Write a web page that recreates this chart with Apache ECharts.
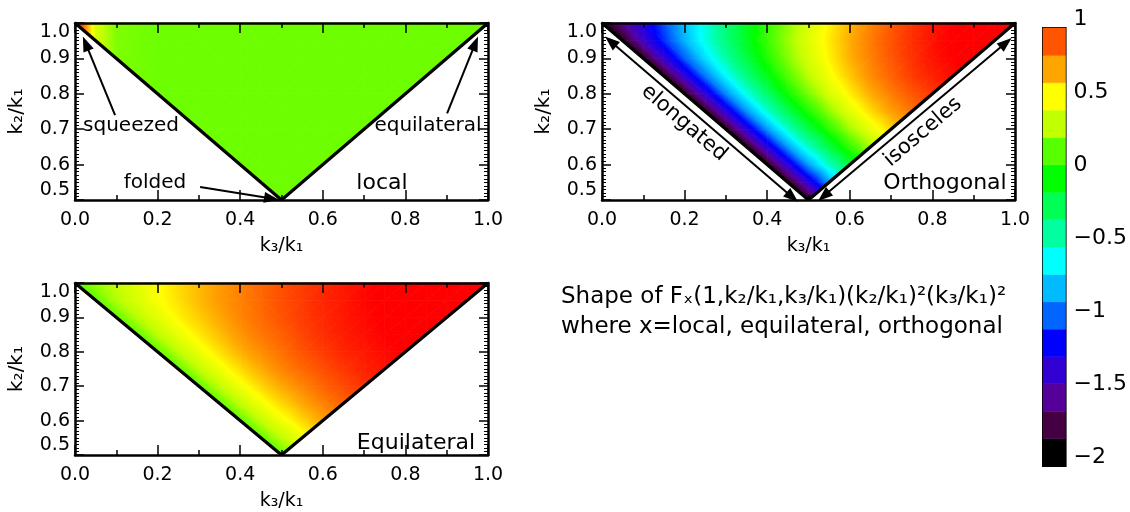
<!DOCTYPE html>
<html><head><meta charset="utf-8">
<script src="https://cdn.jsdelivr.net/npm/echarts@6/dist/echarts.min.js"></script>
<style>html,body{margin:0;padding:0;background:#fff}#c{width:1130px;height:512px}</style>
</head><body><div id="c"></div>
<script>
// ---------- data ----------
const k3Grid = [0,0.05,0.1,0.15,0.2,0.25,0.3,0.35,0.4,0.45,0.5,0.55,0.6,0.65,0.7,0.75,0.8,0.85,0.9,0.95,1];
const k2Grid = [0.5,0.55,0.6,0.65,0.7,0.75,0.8,0.85,0.9,0.95,1];
// row j: k2 = k2Grid[j], values for k3 = 1-k2 ... k2 (step 0.05)
const localRows = [
  [0.03],
  [0.03,0.03,0.03],
  [0.03,0.03,0.03,0.03,0.03],
  [0.03,0.03,0.03,0.03,0.03,0.03,0.03],
  [0.03,0.03,0.03,0.03,0.03,0.03,0.03,0.03,0.03],
  [0.03,0.03,0.03,0.03,0.03,0.03,0.03,0.03,0.03,0.03,0.03],
  [0.03,0.03,0.03,0.03,0.03,0.03,0.03,0.03,0.03,0.03,0.03,0.03,0.03],
  [0.04,0.03,0.03,0.03,0.03,0.03,0.03,0.03,0.03,0.03,0.03,0.03,0.03,0.03,0.03],
  [0.06,0.04,0.03,0.03,0.03,0.03,0.03,0.03,0.03,0.03,0.03,0.03,0.03,0.03,0.03,0.03,0.03],
  [0.24,0.06,0.04,0.03,0.03,0.03,0.03,0.03,0.03,0.03,0.03,0.03,0.03,0.03,0.03,0.03,0.03,0.03,0.03],
  [1.0,0.25,0.06,0.04,0.03,0.03,0.03,0.03,0.03,0.03,0.03,0.03,0.03,0.03,0.03,0.03,0.03,0.03,0.03,0.03,0.03]
];
const equilRows = [
  [0],
  [0,0.18,0.33],
  [0,0.18,0.33,0.45,0.56],
  [0,0.18,0.33,0.45,0.55,0.64,0.71],
  [0,0.18,0.33,0.45,0.55,0.63,0.71,0.77,0.82],
  [0,0.18,0.32,0.44,0.54,0.63,0.70,0.76,0.81,0.86,0.89],
  [0,0.17,0.31,0.43,0.53,0.61,0.68,0.75,0.80,0.85,0.88,0.91,0.94],
  [0,0.17,0.30,0.41,0.50,0.59,0.66,0.72,0.78,0.83,0.87,0.90,0.93,0.95,0.97],
  [0,0.16,0.28,0.39,0.47,0.55,0.63,0.69,0.75,0.80,0.84,0.88,0.91,0.94,0.96,0.98,0.99],
  [0,0.15,0.25,0.35,0.43,0.51,0.58,0.64,0.70,0.76,0.80,0.85,0.88,0.92,0.94,0.96,0.98,0.99,1.0],
  [0,0.10,0.19,0.28,0.36,0.44,0.51,0.58,0.64,0.70,0.75,0.80,0.84,0.88,0.91,0.94,0.96,0.98,0.99,1.0,1.0]
];
const orthoRows = [
  [-2],
  [-2,-1.46,-1.01],
  [-2,-1.46,-1.01,-0.64,-0.33],
  [-2,-1.46,-1.02,-0.65,-0.34,-0.08,0.13],
  [-2,-1.46,-1.03,-0.66,-0.35,-0.10,0.12,0.30,0.45],
  [-2,-1.47,-1.04,-0.68,-0.38,-0.13,0.09,0.28,0.44,0.57,0.67],
  [-2,-1.48,-1.06,-0.72,-0.43,-0.17,0.05,0.24,0.40,0.54,0.65,0.74,0.81],
  [-2,-1.49,-1.10,-0.77,-0.49,-0.24,-0.02,0.17,0.34,0.48,0.61,0.71,0.80,0.86,0.91],
  [-2,-1.51,-1.15,-0.85,-0.58,-0.34,-0.13,0.07,0.24,0.39,0.53,0.64,0.74,0.82,0.89,0.93,0.96],
  [-2,-1.56,-1.24,-0.96,-0.71,-0.48,-0.27,-0.07,0.11,0.27,0.41,0.54,0.65,0.75,0.83,0.89,0.94,0.98,0.99],
  [-2,-1.71,-1.43,-1.17,-0.92,-0.69,-0.47,-0.27,-0.08,0.09,0.25,0.39,0.52,0.63,0.73,0.81,0.88,0.93,0.97,0.99,1.0]
];
const triangleEdge = [[0,1],[0.5,0.5],[1,1]];
// colour bar: lower edge of each band and its colour
const colorbarLevels = [-2,-1.8125,-1.625,-1.4375,-1.25,-1.0625,-0.875,-0.6875,-0.5,-0.3125,-0.125,0.0625,0.25,0.4375,0.625,0.8125];
const colorbarColors = ['#000000','#440042','#56009a','#3300d4','#0000ff','#0066ff','#00bbff','#00ffff','#00ffa0','#00ff55','#00ff00','#58ff00','#c2ff00','#ffff00','#ffa500','#ff5500'];
const colorbarTicks = [-2,-1.5,-1,-0.5,0,0.5,1];
const bandHeight = 0.1875;

// ---------- colour map ----------
const colorShift = 0.07;
const cmLevels = colorbarLevels.concat([1]);
const cmColors = colorbarColors.concat(['#ff0000']).map(h=>[parseInt(h.substr(1,2),16),parseInt(h.substr(3,2),16),parseInt(h.substr(5,2),16)]);
function cmapRaw(v){
  if (v<=cmLevels[0]) v=cmLevels[0];
  if (v>=cmLevels[cmLevels.length-1]) v=cmLevels[cmLevels.length-1];
  let k=0; while(k<cmLevels.length-2 && v>cmLevels[k+1]) k++;
  const t=(v-cmLevels[k])/(cmLevels[k+1]-cmLevels[k]);
  const a=cmColors[k], b=cmColors[k+1];
  const c=[0,1,2].map(n=>Math.round(a[n]+(b[n]-a[n])*t));
  return 'rgb('+c.join(',')+')';
}
const heatColor = v => cmapRaw(v+colorShift);
function gradFor(pts, vals){
  const [p1,p2,p3]=pts,[v1,v2,v3]=vals;
  const vmin=Math.min(v1,v2,v3), vmax=Math.max(v1,v2,v3);
  if (vmax-vmin<1e-6) return heatColor(v1);
  const d2x=p2[0]-p1[0], d2y=p2[1]-p1[1], d3x=p3[0]-p1[0], d3y=p3[1]-p1[1];
  const det=d2x*d3y-d2y*d3x;
  if (Math.abs(det)<1e-9) return heatColor((v1+v2+v3)/3);
  const dv2=v2-v1, dv3=v3-v1;
  const gx=(dv2*d3y-dv3*d2y)/det, gy=(d2x*dv3-d3x*dv2)/det;
  const g2=gx*gx+gy*gy;
  const ax=p1[0]+(vmin-v1)*gx/g2, ay=p1[1]+(vmin-v1)*gy/g2;
  const bx=p1[0]+(vmax-v1)*gx/g2, by=p1[1]+(vmax-v1)*gy/g2;
  const stops=[{offset:0,color:heatColor(vmin)}];
  cmLevels.forEach(l0=>{ const l=l0-colorShift; if(l>vmin && l<vmax) stops.push({offset:(l-vmin)/(vmax-vmin),color:heatColor(l)}); });
  stops.push({offset:1,color:heatColor(vmax)});
  return new echarts.graphic.LinearGradient(ax,ay,bx,by,stops,true);
}
function heatSeries(rows, g){
  const nJ=k2Grid.length, mid=(k3Grid.length-1)/2;
  const val=(i,j)=>{ if(j<0||j>=nJ) return null; const k=i-(mid-j); if(k<0||k>2*j) return null; return rows[j][k]; };
  const cells=[];
  for(let j=0;j<nJ-1;j++) for(let i=0;i<k3Grid.length-1;i++) cells.push([k3Grid[i],k2Grid[j],i,j]);
  return {
    type:'custom', xAxisIndex:2*g, yAxisIndex:2*g, data:cells, encode:{x:0,y:1}, silent:true, z:1,
    renderItem:(params,api)=>{
      const i=api.value(2), j=api.value(3);
      const C={BL:[i,j],BR:[i+1,j],TL:[i,j+1],TR:[i+1,j+1]};
      const tris = i<mid ? [['TL','BR','BL'],['TL','TR','BR']] : [['BL','TR','TL'],['BL','BR','TR']];
      const children=[];
      tris.forEach(t=>{
        const vs=t.map(c=>val(C[c][0],C[c][1]));
        if (vs.some(v=>v==null)) return;
        const pts=t.map(c=>api.coord([k3Grid[C[c][0]],k2Grid[C[c][1]]]));
        children.push({type:'polygon',shape:{points:pts},style:{fill:gradFor(pts,vs),stroke:gradFor(pts,vs),lineWidth:0.8}});
      });
      return {type:'group',children};
    }
  };
}

// ---------- axes ----------
const FONT='DejaVu Sans';
const grids=[
  {left:75,top:23,width:413,height:177},
  {left:602,top:23,width:413,height:177},
  {left:75,top:283,width:413,height:176},
  {left:1043,top:28,width:23,height:438,show:true,borderColor:'#000',borderWidth:2,backgroundColor:'transparent'}
];
const axLine={show:true,onZero:false,lineStyle:{color:'#000',width:2.5}};
const xAxes=[], yAxes=[];
for(let g=0;g<3;g++){
  const xb={gridIndex:g,type:'value',min:0,max:1,interval:0.2,z:10,axisLine:axLine,
    axisTick:{show:true,inside:true,length:10,lineStyle:{color:'#000',width:1.5}},
    minorTick:{show:true,splitNumber:2,length:5,lineStyle:{color:'#000',width:1.5}},
    splitLine:{show:false},minorSplitLine:{show:false}};
  xAxes.push(Object.assign({},xb,{position:'bottom',
    axisLabel:{show:true,fontFamily:FONT,fontSize:19,color:'#000',margin:11,formatter:v=>v.toFixed(1)},
    name:'k₃/k₁',nameLocation:'middle',nameGap:37,nameTextStyle:{fontFamily:FONT,fontSize:19,color:'#000'}}));
  xAxes.push(Object.assign({},xb,{position:'top',axisLabel:{show:false}}));
  const yb={gridIndex:g,type:'value',min:0.5,max:1,interval:0.1,z:10,axisLine:axLine,
    axisTick:{show:true,inside:true,length:9,lineStyle:{color:'#000',width:1.5}},
    minorTick:{show:true,splitNumber:10,length:4,lineStyle:{color:'#000',width:1}},
    splitLine:{show:false},minorSplitLine:{show:false}};
  yAxes.push(Object.assign({},yb,{position:'left',
    axisLabel:{show:true,fontFamily:FONT,fontSize:19,color:'#000',margin:5,formatter:v=>v.toFixed(1),
      verticalAlignMinLabel:'bottom',verticalAlignMaxLabel:'top'},
    name:'k₂/k₁',nameLocation:'middle',nameGap:48,nameRotate:90,nameTextStyle:{fontFamily:FONT,fontSize:20,color:'#000'}}));
  yAxes.push(Object.assign({},yb,{position:'right',axisLabel:{show:false}}));
}
xAxes.push({gridIndex:3,type:'value',min:0,max:1,show:false});
yAxes.push({gridIndex:3,type:'value',min:-2,max:1,interval:0.5,position:'right',
  axisLine:{show:false},axisTick:{show:false},splitLine:{show:false},
  axisLabel:{fontFamily:FONT,fontSize:22,color:'#000',margin:8,verticalAlign:'bottom',lineHeight:17,
    formatter:v=>(v<0?'−':'')+String(Math.abs(v))}});

// ---------- annotations ----------
const arrowStyle={color:'#000',width:2,type:'solid'};
function edgeSeries(g, marks){
  return {type:'line',xAxisIndex:2*g,yAxisIndex:2*g,data:triangleEdge,symbol:'none',silent:true,z:5,
    lineStyle:{color:'#000',width:3.2},
    markLine: marks ? {silent:true,symbol:['none','triangle'],symbolSize:[11,15],label:{show:false},
      lineStyle:arrowStyle,emphasis:{disabled:true},data:marks} : undefined};
}
const localArrows=[
  [{coord:[0.097,0.74]},{coord:[0.026,0.942]}],
  [{coord:[0.901,0.745]},{coord:[0.969,0.942]}],
  [{coord:[0.303,0.537]},{coord:[0.476,0.504]}]
];
const orthoArrows=[
  [{coord:[0.021,0.948],symbol:'triangle'},{coord:[0.461,0.508]}],
  [{coord:[0.537,0.511],symbol:'triangle'},{coord:[0.978,0.944]}]
];
function txt(text,x,y,size,align,rot){
  return {type:'text',x:x,y:y,rotation:rot||0,z:20,silent:true,
    style:{text:text,fontFamily:FONT,fontSize:size,fill:'#000',align:align||'center',verticalAlign:'middle'}};
}
const graphics=[
  txt('squeezed',131,126,20), txt('equilateral',428,126,20),
  txt('folded',155,183,20), txt('local',382,183,22),
  txt('Orthogonal',945,183,22), txt('Equilateral',416,443,22),
  txt('elongated',684,123,21,'center',-0.709), txt('isosceles',923,132,21,'center',0.709),
  txt('Shape of Fₓ(1,k₂/k₁,k₃/k₁)(k₂/k₁)²(k₃/k₁)²',561,297,23,'left'),
  txt('where x=local, equilateral, orthogonal',561,327,23,'left')
];

const chart=echarts.init(document.getElementById('c'),null,{renderer:'canvas'});
chart.setOption({
  animation:false,
  backgroundColor:'#fff',
  grid:grids, xAxis:xAxes, yAxis:yAxes,
  series:[
    heatSeries(localRows,0), edgeSeries(0,localArrows),
    heatSeries(orthoRows,1), edgeSeries(1,orthoArrows),
    heatSeries(equilRows,2), edgeSeries(2,null),
    {type:'custom',xAxisIndex:6,yAxisIndex:6,silent:true,z:1,
      data:colorbarLevels.map((l,k)=>[0,l,k]),encode:{x:0,y:1},
      renderItem:(params,api)=>{
        const lo=api.value(1), k=api.value(2);
        const p0=api.coord([0,lo+bandHeight]), p1=api.coord([1,lo]);
        return {type:'rect',shape:{x:p0[0],y:p0[1],width:p1[0]-p0[0],height:p1[1]-p0[1]},
          style:{fill:colorbarColors[k],stroke:colorbarColors[k],lineWidth:0.5}};
      }}
  ],
  graphic:graphics
});
</script></body></html>
